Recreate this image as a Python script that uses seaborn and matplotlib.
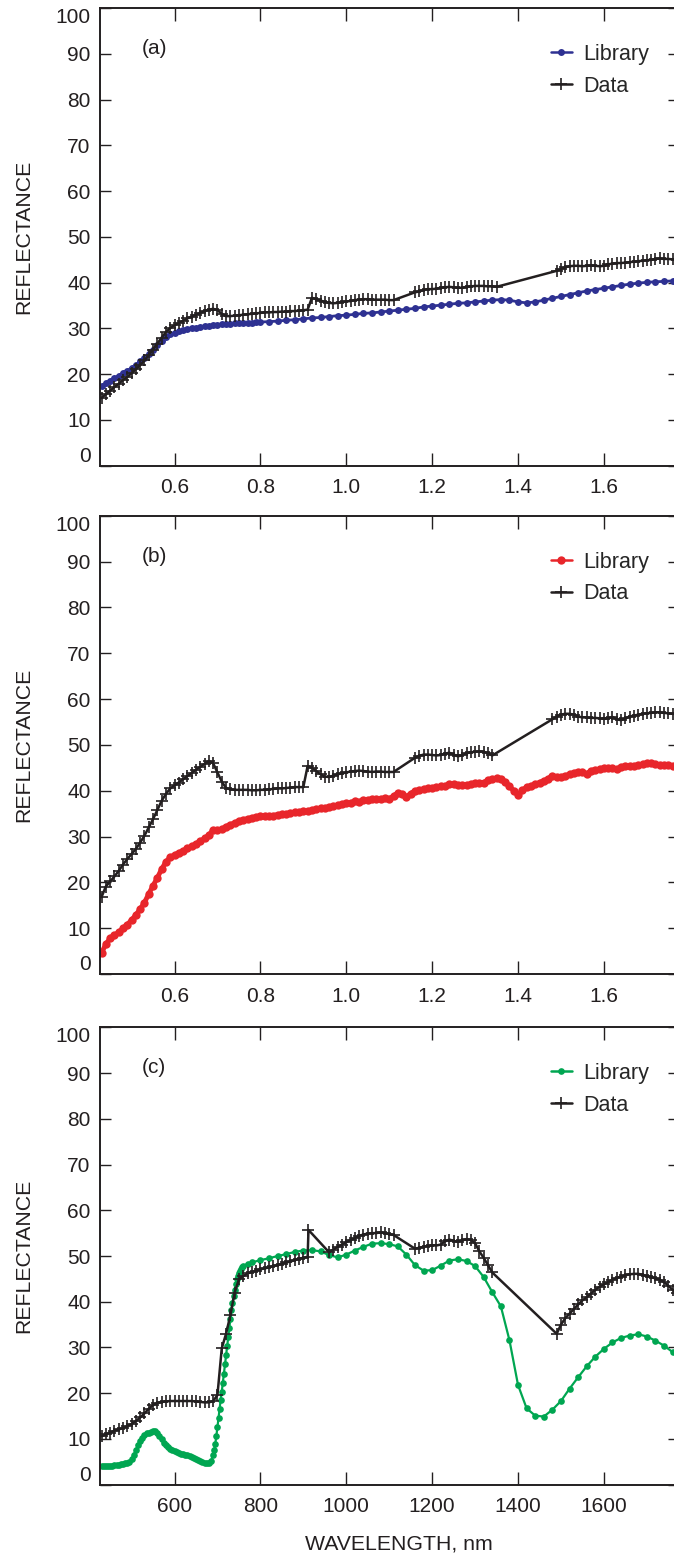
import numpy as np
import matplotlib
matplotlib.use("Agg")
import matplotlib.pyplot as plt
import seaborn as sns

# =============================================================================
# DATA
# =============================================================================
# panel (a) -- wavelength in micrometres
a_lib_x = np.round(np.concatenate([np.arange(0.43, 0.795, 0.01),
                                   np.arange(0.80, 1.765, 0.02)]), 3)
a_lib_y = [17.4, 18.0, 18.6, 19.2, 19.7, 20.3, 20.8, 21.4, 22.1, 22.8,
           23.6, 24.5, 25.4, 26.3, 27.3, 28.1, 28.7, 29.1, 29.4, 29.7,
           29.9, 30.0, 30.2, 30.3, 30.5, 30.6, 30.7, 30.8, 30.9, 31.0,
           31.0, 31.1, 31.2, 31.2, 31.3, 31.3, 31.4,
           31.4, 31.5, 31.6, 31.8, 31.9, 32.1, 32.3, 32.4, 32.6, 32.8,
           32.9, 33.1, 33.3, 33.4, 33.6, 33.8, 34.0, 34.2, 34.4, 34.7,
           34.9, 35.1, 35.3, 35.5, 35.6, 35.8, 36.0, 36.2, 36.3, 36.2,
           35.8, 35.6, 35.8, 36.2, 36.6, 37.0, 37.4, 37.8, 38.2, 38.5,
           38.8, 39.1, 39.4, 39.7, 39.9, 40.1, 40.2, 40.3, 40.4]

a_dat_x = np.round(np.concatenate([np.arange(0.43, 1.115, 0.01),
                                   np.arange(1.16, 1.355, 0.01),
                                   np.arange(1.49, 1.775, 0.01)]), 3)
a_dat_y = [14.8, 15.6, 16.4, 17.2, 17.9, 18.7, 19.4, 20.2, 21.1, 22.0,
           23.0, 24.2, 25.4, 26.7, 28.0, 29.2, 30.1, 30.7, 31.2, 31.7,
           32.2, 32.6, 33.0, 33.4, 33.8, 34.1, 34.3, 34.0, 33.2, 32.7,
           32.7, 32.8, 32.9, 33.0, 33.1, 33.2, 33.3, 33.4, 33.5, 33.5,
           33.6, 33.6, 33.7, 33.7, 33.8, 33.8, 33.9, 34.0, 34.1,
           36.7, 36.4, 36.1, 35.8, 35.6, 35.5, 35.6, 35.8, 35.9, 36.0,
           36.2, 36.3, 36.4, 36.4, 36.3, 36.3, 36.3, 36.3, 36.2, 36.2,
           37.9, 38.1, 38.4, 38.6, 38.6, 38.7, 38.9, 39.0, 39.1, 39.0,
           38.9, 38.9, 39.1, 39.2, 39.3, 39.3, 39.3, 39.2, 39.2, 39.1,
           42.6, 43.0, 43.4, 43.6, 43.7, 43.7, 43.6, 43.7, 43.8, 43.7,
           43.6, 43.7, 44.0, 44.2, 44.3, 44.3, 44.4, 44.5, 44.6, 44.7,
           44.8, 44.9, 45.0, 45.2, 45.3, 45.2, 45.2, 45.1, 45.0]

# panel (b) -- wavelength in micrometres
b_lib_x = np.round(np.arange(0.43, 1.775, 0.01), 3)
b_lib_y = [4.6, 6.5, 7.8, 8.5, 9.1, 10.0, 10.8, 11.8, 12.9, 14.2,
           15.6, 17.5, 19.3, 21.0, 22.9, 24.5, 25.5, 26.0, 26.5, 26.9,
           27.4, 27.9, 28.4, 29.0, 29.6, 30.3, 31.5, 31.4, 31.6, 32.2,
           32.6, 33.0, 33.4, 33.7, 33.9, 34.1, 34.3, 34.4, 34.5, 34.6,
           34.6, 34.8, 34.9, 35.0, 35.1, 35.3, 35.4, 35.5, 35.6, 35.8,
           36.0, 36.2, 36.2, 36.5, 36.6, 36.8, 37.1, 37.3, 37.4, 37.7,
           37.6, 37.9, 37.9, 38.1, 38.3, 38.2, 38.4, 38.2, 38.9, 39.5,
           39.2, 38.7, 39.4, 40.0, 40.2, 40.4, 40.6, 40.6, 40.8, 41.0,
           41.1, 41.4, 41.4, 41.3, 41.2, 41.3, 41.4, 41.6, 41.7, 41.8,
           42.3, 42.6, 42.7, 42.6, 41.9, 41.0, 40.0, 39.1, 40.1, 40.8,
           41.1, 41.4, 41.8, 42.2, 42.6, 43.3, 43.1, 43.0, 43.3, 43.6,
           43.9, 44.2, 44.0, 43.7, 44.4, 44.6, 44.7, 44.9, 45.0, 45.0,
           44.8, 45.1, 45.3, 45.3, 45.5, 45.6, 45.8, 46.0, 46.1, 45.8,
           45.6, 45.6, 45.7, 45.5, 45.4]

b_dat_x = np.round(np.concatenate([np.arange(0.43, 1.115, 0.01),
                                   np.arange(1.16, 1.345, 0.01),
                                   np.arange(1.48, 1.775, 0.01)]), 3)
b_dat_y = [16.8, 19.1, 20.2, 21.3, 22.5, 23.9, 25.1, 26.2, 27.3, 28.7,
           30.2, 32.0, 33.8, 35.8, 37.8, 39.3, 40.5, 41.2, 41.8, 42.5,
           43.2, 43.9, 44.6, 45.2, 45.9, 46.5, 46.0, 44.0, 42.0, 40.6,
           40.3, 40.2, 40.2, 40.2, 40.2, 40.1, 40.1, 40.2, 40.2, 40.3,
           40.4, 40.5, 40.5, 40.6, 40.7, 40.8, 40.8, 40.8, 45.4, 45.0,
           44.3, 43.6, 43.1, 43.0, 43.3, 43.6, 43.8, 44.0, 44.2, 44.3,
           44.4, 44.3, 44.2, 44.1, 44.2, 44.2, 44.1, 44.1, 44.1,
           47.2, 47.6, 47.9, 47.9, 47.8, 47.7, 47.8, 48.1, 48.3, 47.9,
           47.5, 47.8, 48.2, 48.4, 48.5, 48.6, 48.5, 48.2, 47.7,
           55.6, 56.2, 56.6, 56.8, 56.8, 56.6, 56.2, 56.0, 56.0, 55.9,
           55.9, 55.8, 55.7, 55.8, 56.1, 55.6, 55.4, 55.8, 56.2, 56.4,
           56.6, 56.8, 56.9, 57.0, 57.1, 57.1, 57.0, 56.9, 56.8, 56.7]

# panel (c) -- wavelength in nanometres
c_lib_x = np.concatenate([np.arange(430, 691, 5),
                          np.arange(692.5, 761, 2.5),
                          [770, 780],
                          np.arange(800, 1761, 20)])
c_lib_y = [4.0, 4.0, 4.1, 4.1, 4.2, 4.2, 4.3, 4.3, 4.4, 4.5,
           4.6, 4.7, 4.8, 5.0, 5.6, 6.5, 7.6, 8.7, 9.6, 10.3,
           10.8, 11.2, 11.4, 11.6, 11.8, 11.7, 11.3, 10.6, 9.9, 9.2,
           8.6, 8.2, 7.9, 7.6, 7.4, 7.2, 7.0, 6.8, 6.7, 6.6,
           6.4, 6.2, 6.0, 5.8, 5.6, 5.3, 5.1, 4.9, 4.8, 4.7,
           4.8, 5.2, 6.5,
           7.6, 9.0, 10.7, 12.6, 14.6, 16.6, 18.6, 20.3, 22.3, 24.3,
           26.3, 28.4, 30.4, 32.3, 34.3, 36.3, 38.1, 39.7, 41.2, 42.6,
           43.8, 44.9, 45.7, 46.3, 46.8, 47.2, 47.5, 47.8,
           48.3, 48.6,
           49.1, 49.5, 50.0, 50.4, 50.9, 51.2, 51.3, 51.0, 50.2, 49.7,
           50.3, 51.2, 52.0, 52.7, 52.8, 52.6, 52.1, 50.3, 48.0, 46.8,
           46.9, 47.9, 49.0, 49.3, 48.9, 47.8, 45.4, 42.1, 39.0, 31.6,
           21.8, 16.7, 15.1, 14.9, 16.4, 18.3, 21.0, 23.5, 25.9, 28.0,
           29.7, 31.1, 32.1, 32.6, 32.9, 32.4, 31.5, 30.4, 29.0]

c_dat_x = np.concatenate([np.arange(430, 911, 10),
                          [912],
                          np.arange(960, 1111, 10),
                          np.arange(1160, 1341, 10),
                          np.arange(1490, 1771, 10)])
c_dat_y = [10.6, 11.0, 11.4, 11.8, 12.1, 12.4, 12.8, 13.3, 13.9, 14.7,
           15.6, 16.6, 17.4, 17.9, 18.1, 18.2, 18.3, 18.3, 18.3, 18.3,
           18.3, 18.3, 18.2, 18.1, 18.0, 18.0, 18.3, 19.6, 29.8, 33.0,
           37.0, 42.0, 44.9, 45.6, 46.2, 46.5, 46.8, 47.1, 47.3, 47.5,
           47.8, 48.0, 48.3, 48.6, 48.8, 49.1, 49.4, 49.6, 49.8,
           55.7,
           50.8, 51.4, 52.0, 52.5, 53.0, 53.5, 53.9, 54.4, 54.7, 54.9,
           55.0, 55.0, 55.2, 55.0, 54.8, 54.6,
           51.6, 51.8, 52.0, 52.2, 52.3, 52.3, 52.5, 53.2, 53.6, 53.3,
           53.1, 53.4, 53.7, 53.5, 52.8, 51.0, 49.6, 48.0, 46.4,
           33.0, 35.0, 36.4, 37.4, 38.4, 39.4, 40.3, 41.0, 41.8, 42.6,
           43.3, 43.8, 44.3, 44.8, 45.2, 45.5, 45.8, 46.0, 46.1, 46.1,
           45.9, 45.6, 45.4, 45.1, 44.8, 44.3, 43.5, 42.6, 42.0]

panels = [
    {"tag": "(a)", "color": "#2e3192", "ms": 5.0, "lw": 2.0,
     "lib": (a_lib_x, a_lib_y), "dat": (a_dat_x, a_dat_y),
     "xlim": (0.427, 1.775), "xticks": [0.6, 0.8, 1.0, 1.2, 1.4, 1.6],
     "xticklabels": ["0.6", "0.8", "1.0", "1.2", "1.4", "1.6"]},
    {"tag": "(b)", "color": "#e8262b", "ms": 6.0, "lw": 3.5,
     "lib": (b_lib_x, b_lib_y), "dat": (b_dat_x, b_dat_y),
     "xlim": (0.427, 1.775), "xticks": [0.6, 0.8, 1.0, 1.2, 1.4, 1.6],
     "xticklabels": ["0.6", "0.8", "1.0", "1.2", "1.4", "1.6"]},
    {"tag": "(c)", "color": "#00a651", "ms": 4.8, "lw": 1.6,
     "lib": (c_lib_x, c_lib_y), "dat": (c_dat_x, c_dat_y),
     "xlim": (427, 1775), "xticks": [600, 800, 1000, 1200, 1400, 1600],
     "xticklabels": ["600", "800", "1000", "1200", "1400", "1600"]},
]

for p in panels:
    assert len(p["lib"][0]) == len(p["lib"][1]), p["tag"]
    assert len(p["dat"][0]) == len(p["dat"][1]), p["tag"]

# =============================================================================
# PLOTTING
# =============================================================================
sns.set_style("ticks")
plt.rcParams['font.family'] = ['Liberation Sans', 'DejaVu Sans']

INK = "#231f20"
TICK_SIZE = 15
LABEL_SIZE = 15.3
LEGEND_SIZE = 15.5

fig = plt.figure(figsize=(6.74, 15.56), dpi=100)

# axes boxes in figure fraction (left, bottom, width, height)
left, width = 0.1487, 0.8588
boxes = [(left, 0.7007, width, 0.2940),
         (left, 0.3740, width, 0.2945),
         (left, 0.0458, width, 0.2940)]

for p, box in zip(panels, boxes):
    ax = fig.add_axes(box)

    sns.lineplot(x=p["lib"][0], y=p["lib"][1], ax=ax, color=p["color"],
                 marker="o", markersize=p["ms"], markeredgewidth=0,
                 markeredgecolor=p["color"], markerfacecolor=p["color"],
                 linewidth=p["lw"], sort=False, estimator=None,
                 label="Library")
    sns.lineplot(x=p["dat"][0], y=p["dat"][1], ax=ax, color=INK,
                 marker="+", markersize=9, markeredgewidth=1.2,
                 markeredgecolor=INK, linewidth=1.8, sort=False,
                 estimator=None, label="Data")

    ax.set_xlim(*p["xlim"])
    ax.set_ylim(0, 100)
    ax.set_xticks(p["xticks"])
    ax.set_xticklabels(p["xticklabels"])
    ax.set_yticks(range(0, 101, 10))

    ax.tick_params(axis="both", direction="in", top=True, right=True,
                   labelsize=TICK_SIZE, width=1.0, color=INK,
                   labelcolor=INK)
    ax.tick_params(axis="x", length=9.5, pad=9)
    ax.tick_params(axis="y", length=8, pad=7)

    # keep the 0 and 100 labels inside the axis range like the original
    yt = ax.yaxis.get_major_ticks()
    yt[0].label1.set_verticalalignment("bottom")
    yt[-1].label1.set_verticalalignment("top")

    for side in ["left", "bottom", "top", "right"]:
        ax.spines[side].set_linewidth(1.4)
        ax.spines[side].set_color(INK)

    ax.set_ylabel("REFLECTANCE", fontsize=LABEL_SIZE, color=INK)
    ax.yaxis.set_label_coords(-0.115, 0.5)
    ax.set_xlabel("")

    ax.text(0.072, 0.912, p["tag"], transform=ax.transAxes,
            fontsize=TICK_SIZE, va="center", ha="left", color=INK)

    leg = ax.legend(loc="upper left", bbox_to_anchor=(0.778, 0.922),
                    fontsize=LEGEND_SIZE, frameon=False, borderpad=0,
                    borderaxespad=0, handlelength=1.0, handletextpad=0.5,
                    labelspacing=0.5, numpoints=1)
    for h in leg.legend_handles:
        h.set_linewidth(1.8)

ax.set_xlabel("WAVELENGTH, nm", fontsize=LABEL_SIZE, color=INK)
ax.xaxis.set_label_coords(0.516, -0.108)

fig.savefig("out.png", dpi=100)
